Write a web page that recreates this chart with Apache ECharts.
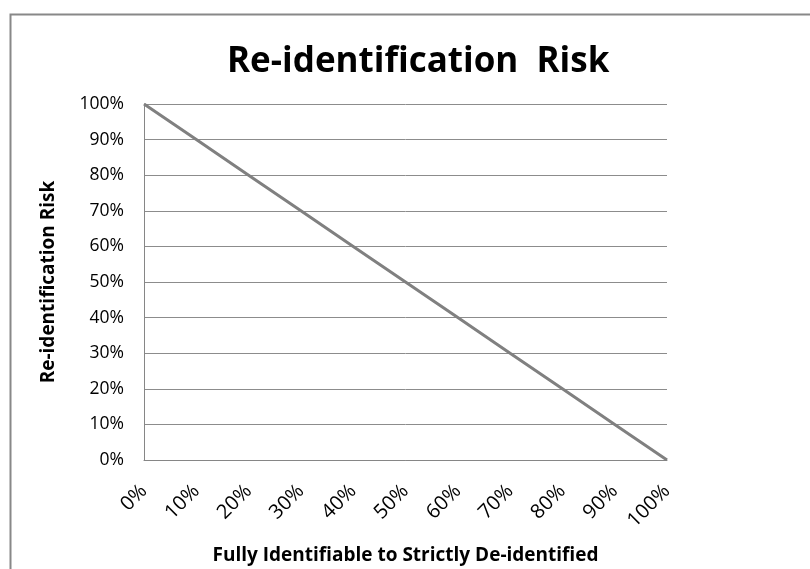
<!DOCTYPE html>
<html><head><meta charset="utf-8">
<script src="https://cdn.jsdelivr.net/npm/echarts@6/dist/echarts.min.js"></script>
<style>html,body{margin:0;padding:0;background:#fff}#c{width:810px;height:569px}</style>
</head><body><div id="c"></div>
<script>
const categories = ['0%','10%','20%','30%','40%','50%','60%','70%','80%','90%','100%'];
const riskValues = [100, 90, 80, 70, 60, 50, 40, 30, 20, 10, 0];
const yTicks = [0, 10, 20, 30, 40, 50, 60, 70, 80, 90, 100];
const titleText = 'Re-identification  Risk';
const xName = 'Fully Identifiable to Strictly De-identified';
const yName = 'Re-identification Risk';

const FONT = 'Open Sans';
const chart = echarts.init(document.getElementById('c'), null, {renderer: 'canvas'});
chart.setOption({
  backgroundColor: '#fff',
  animation: false,
  graphic: [{
    type: 'rect', left: 8, top: 12,
    shape: {width: 900, height: 700},
    style: {fill: 'none', stroke: '#888', lineWidth: 2}, z: -1
  }],
  title: {
    text: titleText, left: 222, top: 40,
    textStyle: {fontFamily: FONT, fontSize: 35, fontWeight: 'bold', color: '#000'}
  },
  grid: {left: 144, right: 143, top: 104, bottom: 109, containLabel: false, outerBoundsMode: 'none'},
  xAxis: {
    type: 'category', data: categories, boundaryGap: false,
    name: xName, nameLocation: 'middle', nameGap: 86,
    nameTextStyle: {fontFamily: FONT, fontSize: 19, fontWeight: 'bold', color: '#000'},
    axisLine: {lineStyle: {color: '#868686', width: 1}},
    axisTick: {show: false},
    axisLabel: {rotate: 45, margin: 28, fontFamily: FONT, fontSize: 20, color: '#000', interval: 0},
    splitLine: {show: false}
  },
  yAxis: {
    type: 'value', min: 0, max: 100, interval: 10,
    name: yName, nameLocation: 'middle', nameGap: 86, nameRotate: 90,
    nameTextStyle: {fontFamily: FONT, fontSize: 19, fontWeight: 'bold', color: '#000'},
    axisLine: {show: true, lineStyle: {color: '#868686', width: 1}},
    axisTick: {show: false},
    axisLabel: {margin: 20, fontFamily: FONT, fontSize: 17.5, color: '#000', formatter: v => yTicks.includes(v) ? v + '%' : ''},
    splitLine: {lineStyle: {color: '#8c8c8c', width: 1}}
  },
  series: [{
    type: 'line', data: riskValues, symbol: 'none',
    lineStyle: {color: '#808080', width: 3}
  }]
});
</script></body></html>
